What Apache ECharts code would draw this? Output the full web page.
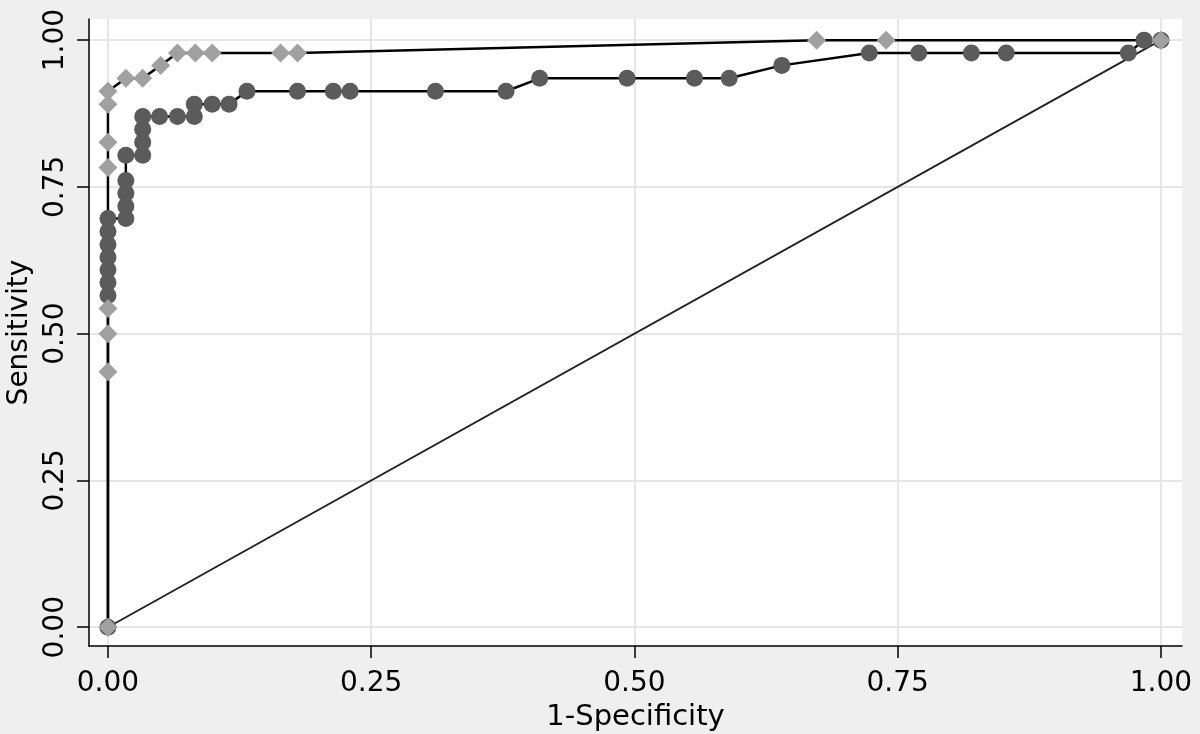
<!DOCTYPE html>
<html><head><meta charset="utf-8">
<script src="https://cdn.jsdelivr.net/npm/echarts@6/dist/echarts.min.js"></script>
<style>html,body{margin:0;padding:0;background:#efefef}#c{width:1200px;height:734px}</style>
</head><body><div id="c"></div>
<script>
const tickValues = [0, 0.25, 0.5, 0.75, 1];
const refX = [0, 1];
const refY = [0, 1];
const circleX = [0,0,0,0,0,0,0,0,0.017,0.017,0.017,0.017,0.017,0.033,0.033,0.033,0.033,0.049,0.066,0.082,0.082,0.099,0.115,0.132,0.180,0.214,0.230,0.311,0.378,0.410,0.493,0.557,0.590,0.640,0.723,0.770,0.820,0.853,0.969,0.984,1];
const circleY = [0,0.565,0.587,0.609,0.630,0.652,0.674,0.696,0.696,0.717,0.739,0.761,0.804,0.804,0.826,0.848,0.870,0.870,0.870,0.870,0.891,0.891,0.891,0.913,0.913,0.913,0.913,0.913,0.913,0.935,0.935,0.935,0.935,0.957,0.978,0.978,0.978,0.978,0.978,1,1];
const diamondX = [0,0,0,0,0,0,0,0,0.017,0.033,0.050,0.066,0.083,0.099,0.164,0.180,0.673,0.739,1];
const diamondY = [0,0.435,0.500,0.543,0.783,0.826,0.891,0.913,0.935,0.935,0.957,0.978,0.978,0.978,0.978,0.978,1,1,1];

const zip = (a, b) => a.map((v, i) => [v, b[i]]);
const font = 'DejaVu Sans';
const chart = echarts.init(document.getElementById('c'));
const axisCommon = {
  type: 'value',
  axisLine: {show: true, onZero: false, lineStyle: {color: '#000', width: 1.5}},
  axisTick: {show: true, length: 12, lineStyle: {color: '#000', width: 1.5}, customValues: tickValues},
  axisLabel: {color: '#000', fontSize: 28, fontFamily: font, customValues: tickValues, formatter: v => v.toFixed(2)},
  splitLine: {show: true, lineStyle: {color: '#e6e6e6', width: 2}},
  nameLocation: 'middle',
  nameTextStyle: {color: '#000', fontSize: 28, fontFamily: font}
};
chart.setOption({
  animation: false,
  backgroundColor: '#efefef',
  grid: {left: 89, right: 18, top: 19, bottom: 88, outerBoundsMode: 'none', containLabel: false, show: true, backgroundColor: '#fff', borderWidth: 0},
  xAxis: Object.assign({}, axisCommon, {min: -0.018, max: 1.02, name: '1-Specificity', nameGap: 55,
    nameTextStyle: {color: '#000', fontSize: 29, fontFamily: font},
    axisLabel: Object.assign({}, axisCommon.axisLabel, {margin: 24})}),
  yAxis: Object.assign({}, axisCommon, {min: -0.032, max: 1.036, name: 'Sensitivity', nameGap: 48,
    axisLabel: Object.assign({}, axisCommon.axisLabel, {rotate: 90, margin: 19})}),
  series: [
    {type: 'line', data: zip(refX, refY), showSymbol: false, symbol: 'none', lineStyle: {color: '#222', width: 1.9}},
    {type: 'line', data: zip(circleX, circleY), symbol: 'circle', symbolSize: 17, showAllSymbol: true,
      itemStyle: {color: '#5b5b5b', borderWidth: 0}, lineStyle: {color: '#000', width: 2.5}},
    {type: 'line', data: zip(diamondX, diamondY), symbol: 'diamond', symbolSize: 19, showAllSymbol: true,
      itemStyle: {color: '#a0a0a0', borderWidth: 0}, lineStyle: {color: '#000', width: 2.5}}
  ]
});
</script></body></html>
